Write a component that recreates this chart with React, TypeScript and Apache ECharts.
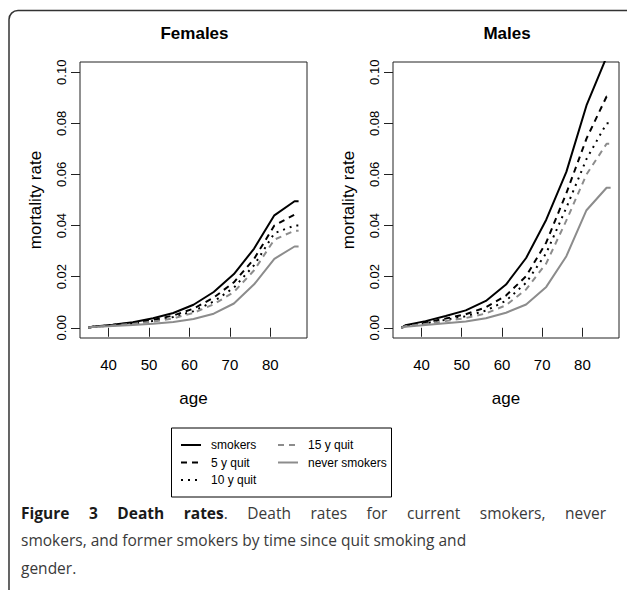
import React, { useEffect, useRef } from "react";
import * as echarts from "echarts";

// ---------- data ----------
const ages = [35, 36, 41, 46, 51, 56, 61, 66, 71, 76, 81, 86, 87];
const seriesNames = ["smokers", "5 y quit", "10 y quit", "15 y quit", "never smokers"];

const femalesSmokers = [0, 0.0004, 0.0012, 0.0022, 0.0037, 0.0058, 0.009, 0.014, 0.021, 0.031, 0.044, 0.0495, 0.0495];
const femalesQuit5 = [0, 0.0004, 0.0011, 0.0019, 0.0031, 0.0048, 0.0075, 0.0118, 0.0178, 0.027, 0.04, 0.0443, 0.0443];
const femalesQuit10 = [0, 0.0003, 0.001, 0.0017, 0.0027, 0.0042, 0.0065, 0.0103, 0.0157, 0.0245, 0.037, 0.04, 0.04];
const femalesQuit15 = [0, 0.0003, 0.0009, 0.0015, 0.0024, 0.0037, 0.0058, 0.0092, 0.014, 0.0225, 0.0345, 0.038, 0.038];
const femalesNever = [0, 0.0003, 0.0007, 0.0011, 0.0016, 0.0023, 0.0034, 0.0055, 0.0095, 0.017, 0.027, 0.0318, 0.0318];

const malesSmokers = [0, 0.001, 0.0026, 0.0046, 0.0068, 0.0105, 0.0169, 0.0273, 0.0423, 0.061, 0.087, 0.106, 0.106];
const malesQuit5 = [0, 0.0008, 0.0021, 0.0036, 0.0053, 0.008, 0.0126, 0.0202, 0.0334, 0.0527, 0.074, 0.0905, 0.0905];
const malesQuit10 = [0, 0.0007, 0.0018, 0.0031, 0.0045, 0.0067, 0.0106, 0.0176, 0.0292, 0.047, 0.066, 0.08, 0.08];
const malesQuit15 = [0, 0.0006, 0.0015, 0.0026, 0.0038, 0.0056, 0.0088, 0.015, 0.0252, 0.042, 0.06, 0.072, 0.072];
const malesNever = [0, 0.0004, 0.0011, 0.0018, 0.0025, 0.0037, 0.0059, 0.0091, 0.016, 0.028, 0.046, 0.0548, 0.0548];

const femalesSeries = [femalesSmokers, femalesQuit5, femalesQuit10, femalesQuit15, femalesNever];
const malesSeries = [malesSmokers, malesQuit5, malesQuit10, malesQuit15, malesNever];

const xTicks = [40, 50, 60, 70, 80];
const yTicks = [0, 0.02, 0.04, 0.06, 0.08, 0.1];
const panelTitles = ["Females", "Males"];
const xAxisTitle = "age";
const yAxisTitle = "mortality rate";

const captionBold = "Figure 3 Death rates";
const captionLine1Rest = ". Death rates for current smokers, never";
const captionLine2 = "smokers, and former smokers by time since quit smoking and";
const captionLine3 = "gender.";

// ---------- styles ----------
const RFONT = "'Liberation Sans', Arial, Helvetica, sans-serif";
const CFONT = "'Open Sans', 'Noto Sans', sans-serif";
const GREY = "#8c8c8c";
const lineStyles = [
  { color: "#000", type: "solid" as any },
  { color: "#000", type: [6, 5] as any },
  { color: "#000", type: [2, 5] as any },
  { color: GREY, type: [6, 5] as any },
  { color: GREY, type: "solid" as any },
];

const grids = [
  { left: 80, top: 62, width: 227, height: 276 },
  { left: 393, top: 62, width: 226, height: 276 },
];

function measure(text: string, font: string): number {
  const c = document.createElement("canvas").getContext("2d");
  if (!c) return text.length * 8;
  c.font = font;
  return c.measureText(text).width;
}

function buildCaption(): any[] {
  const els: any[] = [];
  const size = 15.5;
  const boldFont = `bold ${size}px 'Open Sans'`;
  const regFont = `${size}px 'Open Sans'`;
  const boldWords = captionBold.split(" ");
  const restWords = captionLine1Rest.split(" ");
  type Tok = { parts: { t: string; b: boolean }[] };
  const toks: Tok[] = boldWords.map((w) => ({ parts: [{ t: w, b: true }] }));
  toks[toks.length - 1].parts.push({ t: restWords[0], b: false });
  restWords.slice(1).forEach((w) => toks.push({ parts: [{ t: w, b: false }] }));
  const widths = toks.map((tk) => tk.parts.reduce((s, p) => s + measure(p.t, p.b ? boldFont : regFont), 0));
  const x0 = 21;
  const x1 = 606;
  const total = widths.reduce((a, b) => a + b, 0);
  const gap = (x1 - x0 - total) / (toks.length - 1);
  let x = x0;
  const y1 = 513;
  toks.forEach((tk, i) => {
    let px = x;
    tk.parts.forEach((p) => {
      els.push({
        type: "text",
        silent: true,
        style: {
          text: p.t,
          x: px,
          y: y1,
          fill: p.b ? "#1a1a1a" : "#3a3a3a",
          fontFamily: CFONT,
          fontSize: size,
          fontWeight: p.b ? "bold" : "normal",
          align: "left",
          textAlign: "left",
          verticalAlign: "middle",
          textVerticalAlign: "middle",
        },
      });
      px += measure(p.t, p.b ? boldFont : regFont);
    });
    x += widths[i] + gap;
  });
  [captionLine2, captionLine3].forEach((t, i) => {
    els.push({
      type: "text",
      silent: true,
      style: {
        text: t,
        x: x0,
        y: 540 + i * 27.5,
        fill: "#3a3a3a",
        fontFamily: CFONT,
        fontSize: size,
        align: "left",
        textAlign: "left",
        verticalAlign: "middle",
        textVerticalAlign: "middle",
      },
    });
  });
  return els;
}

export default function App() {
  const ref = useRef<HTMLDivElement>(null);
  useEffect(() => {
    if (!ref.current) return;
    const chart = echarts.init(ref.current, undefined, { renderer: "svg" });

    const xAxes = grids.map((_, i) => ({
      type: "value",
      gridIndex: i,
      min: 32.92,
      max: 89.08,
      name: xAxisTitle,
      nameLocation: "middle",
      nameGap: 52,
      nameTextStyle: { fontFamily: RFONT, fontSize: 17, color: "#000" },
      axisLine: { show: false },
      splitLine: { show: false },
      axisTick: { show: true, length: 9, customValues: xTicks, lineStyle: { color: "#222", width: 1 } },
      axisLabel: {
        customValues: xTicks,
        margin: 19,
        fontFamily: RFONT,
        fontSize: 15,
        color: "#000",
        formatter: (v: number) => String(v),
      },
    }));
    const yAxes = grids.map((_, i) => ({
      type: "value",
      gridIndex: i,
      min: -0.004,
      max: 0.104,
      name: yAxisTitle,
      nameLocation: "middle",
      nameRotate: 90,
      nameGap: 36,
      nameTextStyle: { fontFamily: RFONT, fontSize: 17, color: "#000" },
      axisLine: { show: false },
      splitLine: { show: false },
      axisTick: { show: true, length: 9, customValues: yTicks, lineStyle: { color: "#222", width: 1 } },
      axisLabel: {
        customValues: yTicks,
        rotate: 90,
        margin: 12,
        fontFamily: RFONT,
        fontSize: 13,
        color: "#000",
        formatter: (v: number) => v.toFixed(2),
      },
    }));

    const series: any[] = [];
    [femalesSeries, malesSeries].forEach((panel, gi) => {
      panel.forEach((vals, si) => {
        series.push({
          type: "line",
          name: seriesNames[si],
          xAxisIndex: gi,
          yAxisIndex: gi,
          data: ages.map((a, k) => [a, vals[k]]),
          showSymbol: false,
          symbol: "none",
          clip: true,
          silent: true,
          lineStyle: { color: lineStyles[si].color, type: lineStyles[si].type, width: 2, cap: "butt" },
          itemStyle: { color: lineStyles[si].color },
          emphasis: { disabled: true },
        });
      });
    });

    const titleEls = panelTitles.map((t, i) => ({
      type: "text",
      silent: true,
      style: {
        text: t,
        x: grids[i].left + grids[i].width / 2 + 1,
        y: 33,
        fill: "#000",
        fontFamily: RFONT,
        fontSize: 17,
        fontWeight: "bold",
        align: "center",
        textAlign: "center",
        verticalAlign: "middle",
        textVerticalAlign: "middle",
      },
    }));

    const legendCommon = {
      orient: "vertical",
      top: 439,
      itemWidth: 20,
      itemHeight: 12,
      itemGap: 5.5,
      padding: 0,
      selectedMode: false,
      itemStyle: { opacity: 0, borderWidth: 0 },
      textStyle: { fontFamily: RFONT, fontSize: 12, color: "#000", padding: [0, 0, 0, 5] },
    };

    chart.setOption({
      animation: false,
      backgroundColor: "#fff",
      grid: grids.map((g) => ({ ...g, show: true, borderColor: "#222", borderWidth: 1, containLabel: false })),
      xAxis: xAxes,
      yAxis: yAxes,
      legend: [
        { ...legendCommon, left: 180, data: seriesNames.slice(0, 3) },
        { ...legendCommon, left: 277, data: seriesNames.slice(3) },
      ],
      series,
      graphic: [
        {
          type: "rect",
          silent: true,
          shape: { x: 9, y: 10.5, width: 660, height: 700, r: 9 },
          style: { fill: "none", stroke: "#333", lineWidth: 1.5 },
        },
        {
          type: "rect",
          silent: true,
          shape: { x: 171.5, y: 428, width: 220, height: 69 },
          style: { fill: "none", stroke: "#000", lineWidth: 1 },
        },
        ...titleEls,
        ...buildCaption(),
      ],
    });
    return () => chart.dispose();
  }, []);
  return (
    <div
      ref={ref}
      style={{ position: "absolute", left: 0, top: 0, width: 627, height: 590, background: "#fff" }}
    />
  );
}
